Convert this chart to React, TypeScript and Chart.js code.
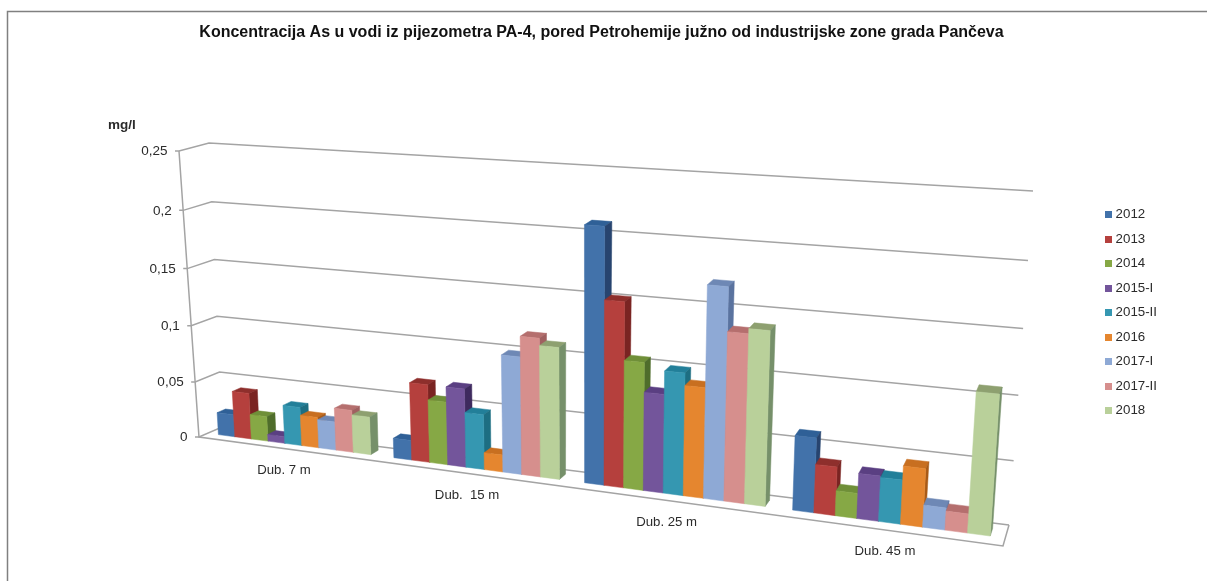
import React, { useEffect, useRef } from "react";
import { Chart, registerables } from "chart.js";

Chart.register(...registerables);

const titleText = "Koncentracija As u vodi iz pijezometra PA-4, pored Petrohemije južno od industrijske zone grada Pančeva";
const unitLabel = "mg/l";
const categories = ["Dub. 7 m", "Dub.  15 m", "Dub. 25 m", "Dub. 45 m"];
const seriesNames = ["2012", "2013", "2014", "2015-I", "2015-II", "2016", "2017-I", "2017-II", "2018"];

const v2012 = [0.02, 0.017, 0.21, 0.06];
const v2013 = [0.041, 0.067, 0.152, 0.039];
const v2014 = [0.022, 0.054, 0.105, 0.02];
const v2015I = [0.006, 0.067, 0.081, 0.036];
const v2015II = [0.034, 0.047, 0.1, 0.035];
const v2016 = [0.027, 0.0145, 0.09, 0.046];
const v2017I = [0.025, 0.099, 0.171, 0.0175];
const v2017II = [0.037, 0.116, 0.136, 0.015];
const v2018 = [0.033, 0.11, 0.14, 0.109];
const allValues = [v2012, v2013, v2014, v2015I, v2015II, v2016, v2017I, v2017II, v2018];

const frontColors = ["#4272aa", "#b5403d", "#86a845", "#73559b", "#3597b1", "#e5862f", "#8ea9d5", "#d68f8d", "#b9d09a"];
const topColors = ["#2f6097", "#8e2f2c", "#6f8f38", "#5a3f82", "#227f99", "#c86f20", "#6e88b5", "#b56f6e", "#8ea070"];
const sideColors = ["#27446f", "#7a2422", "#4f6d2b", "#3e2a5e", "#1d6e82", "#a85a17", "#5a739f", "#a06060", "#76906a"];

type P = [number, number];

// Corners of the 3D box on screen: [bottom-left, bottom-right, top-right, top-left]
const frontQuad: P[] = [[199, 437], [1003, 546], [1025, 208], [179, 151]];
const backQuad: P[] = [[222, 427], [1009, 525], [1033, 191], [209, 143]];
const barDepthFront = 0.38;
const barDepthBack = 0.74;

function homography(q: P[]) {
  const [[x0, y0], [x1, y1], [x2, y2], [x3, y3]] = q;
  const dx1 = x1 - x2, dx2 = x3 - x2, sx = x0 - x1 + x2 - x3;
  const dy1 = y1 - y2, dy2 = y3 - y2, sy = y0 - y1 + y2 - y3;
  const det = dx1 * dy2 - dx2 * dy1;
  const g = (sx * dy2 - dx2 * sy) / det;
  const h = (dx1 * sy - sx * dy1) / det;
  const a = x1 - x0 + g * x1, b = x3 - x0 + h * x3, c = x0;
  const d = y1 - y0 + g * y1, e = y3 - y0 + h * y3, f = y0;
  return (u: number, v: number): P => {
    const w = g * u + h * v + 1;
    return [(a * u + b * v + c) / w, (d * u + e * v + f) / w];
  };
}
const hFront = homography(frontQuad);
const hBack = homography(backQuad);
function project(u: number, v: number, depth: number): P {
  const a = hFront(u, v), b = hBack(u, v);
  return [a[0] + (b[0] - a[0]) * depth, a[1] + (b[1] - a[1]) * depth];
}

function poly(ctx: CanvasRenderingContext2D, pts: P[], fill: string) {
  ctx.beginPath();
  pts.forEach((p, i) => (i ? ctx.lineTo(p[0], p[1]) : ctx.moveTo(p[0], p[1])));
  ctx.closePath();
  ctx.fillStyle = fill;
  ctx.fill();
  ctx.strokeStyle = fill;
  ctx.lineWidth = 0.5;
  ctx.stroke();
}

const GRID = "#a4a4a4";
const TEXT = "#2b2b2b";
const FONT = '"Liberation Sans", Arial, sans-serif';

function swatch(color: string) {
  const c = document.createElement("canvas");
  c.width = 7;
  c.height = 7;
  const g = c.getContext("2d") as CanvasRenderingContext2D;
  g.fillStyle = color;
  g.fillRect(0, 0, 7, 7);
  return c;
}

const box3d = {
  id: "box3d",
  beforeDraw(chart: any) {
    const ctx = chart.ctx as CanvasRenderingContext2D;
    ctx.save();
    ctx.fillStyle = "#ffffff";
    ctx.fillRect(0, 0, chart.width, chart.height);
    ctx.strokeStyle = "#808080";
    ctx.lineWidth = 1.5;
    ctx.beginPath();
    ctx.moveTo(7.5, chart.height);
    ctx.lineTo(7.5, 11.5);
    ctx.lineTo(chart.width, 11.5);
    ctx.stroke();
    ctx.restore();
  },
  beforeDatasetsDraw(chart: any) {
    const ctx = chart.ctx as CanvasRenderingContext2D;
    const yScale = chart.scales.y;
    const span = yScale.max - yScale.min;
    ctx.save();
    ctx.strokeStyle = GRID;
    ctx.lineWidth = 1.5;
    const seg = (pts: P[]) => {
      ctx.beginPath();
      pts.forEach((p, i) => (i ? ctx.lineTo(p[0], p[1]) : ctx.moveTo(p[0], p[1])));
      ctx.stroke();
    };
    ctx.font = `13.5px ${FONT}`;
    ctx.textAlign = "right";
    ctx.textBaseline = "middle";
    yScale.ticks.forEach((t: any) => {
      const v = (t.value - yScale.min) / span;
      const f = project(0, v, 0);
      const b = project(0, v, 1);
      const r = project(1, v, 1);
      seg([[f[0] - 4, f[1]], f, b, r]);
      ctx.fillStyle = TEXT;
      ctx.fillText(t.label, f[0] - 11.5, f[1] + 0.5);
    });
    seg([project(0, 1, 0), project(0, 0, 0), project(1, 0, 0), project(1, 0, 1)]);
    ctx.fillStyle = TEXT;
    ctx.font = `bold 13.5px ${FONT}`;
    ctx.textAlign = "left";
    ctx.fillText(unitLabel, 108, 125);
    ctx.restore();
  },
  beforeDatasetDraw() {
    return false;
  },
  afterDatasetsDraw(chart: any) {
    const ctx = chart.ctx as CanvasRenderingContext2D;
    const area = chart.chartArea;
    const toU = (x: number) => (x - area.left) / (area.right - area.left);
    const toV = (y: number) => (area.bottom - y) / (area.bottom - area.top);
    ctx.save();
    chart.data.labels.forEach((_: string, c: number) => {
      chart.data.datasets.forEach((_d: any, s: number) => {
        const bar = chart.getDatasetMeta(s).data[c] as any;
        const u0 = toU(bar.x - bar.width / 2);
        const u1 = toU(bar.x + bar.width / 2);
        const v0 = toV(bar.base);
        const v1 = toV(bar.y);
        const d0 = barDepthFront, d1 = barDepthBack;
        poly(ctx, [project(u0, v1, d0), project(u1, v1, d0), project(u1, v1, d1), project(u0, v1, d1)], topColors[s]);
        poly(ctx, [project(u1, v0, d0), project(u1, v0, d1), project(u1, v1, d1), project(u1, v1, d0)], sideColors[s]);
        poly(ctx, [project(u0, v0, d0), project(u1, v0, d0), project(u1, v1, d0), project(u0, v1, d0)], frontColors[s]);
      });
    });
    const xScale = chart.scales.x;
    ctx.fillStyle = TEXT;
    ctx.font = `13.2px ${FONT}`;
    ctx.textAlign = "center";
    ctx.textBaseline = "middle";
    chart.data.labels.forEach((label: string, c: number) => {
      const p = project(toU(xScale.getPixelForValue(c)), 0, 0);
      ctx.fillText(label, p[0] - 1, p[1] + 21.5);
    });
    ctx.restore();
  },
};

export default function App() {
  const ref = useRef<HTMLCanvasElement | null>(null);
  useEffect(() => {
    const swatches = frontColors.map(swatch);
    const chart = new Chart(ref.current as HTMLCanvasElement, {
      type: "bar",
      data: {
        labels: categories,
        datasets: seriesNames.map((name, i) => ({
          label: name,
          data: allValues[i],
          backgroundColor: frontColors[i],
          borderWidth: 0,
          barPercentage: 1,
          categoryPercentage: 0.873,
        })),
      },
      options: {
        responsive: false,
        animation: false,
        layout: { padding: { top: 23, right: 40, bottom: 4, left: 36 } },
        scales: {
          x: { display: false, type: "category" },
          y: {
            display: false,
            min: 0,
            max: 0.25,
            ticks: {
              stepSize: 0.05,
              callback: (v: any) => String(Math.round(v * 100) / 100).replace(".", ","),
            },
          },
        },
        plugins: {
          title: {
            display: true,
            text: titleText,
            color: "#111111",
            font: { family: FONT, size: 16, weight: "bold" },
            padding: { top: 0, bottom: 6 },
          },
          legend: {
            position: "right",
            fullSize: false,
            labels: {
              usePointStyle: true,
              pointStyleWidth: 0.7,
              boxHeight: 7,
              padding: 11.2,
              color: TEXT,
              font: { family: FONT, size: 13.3 },
              generateLabels: (c: any) =>
                Chart.defaults.plugins.legend.labels.generateLabels(c).map((item: any, i: number) => ({
                  ...item,
                  pointStyle: swatches[i],
                })),
            },
          },
          tooltip: { enabled: false },
        },
      },
      plugins: [box3d],
    } as any);
    return () => chart.destroy();
  }, []);
  return (
    <div style={{ position: "fixed", left: 0, top: 0, width: 1207, height: 581, background: "#fff" }}>
      <canvas ref={ref} width={1207} height={581} style={{ display: "block" }} />
    </div>
  );
}
